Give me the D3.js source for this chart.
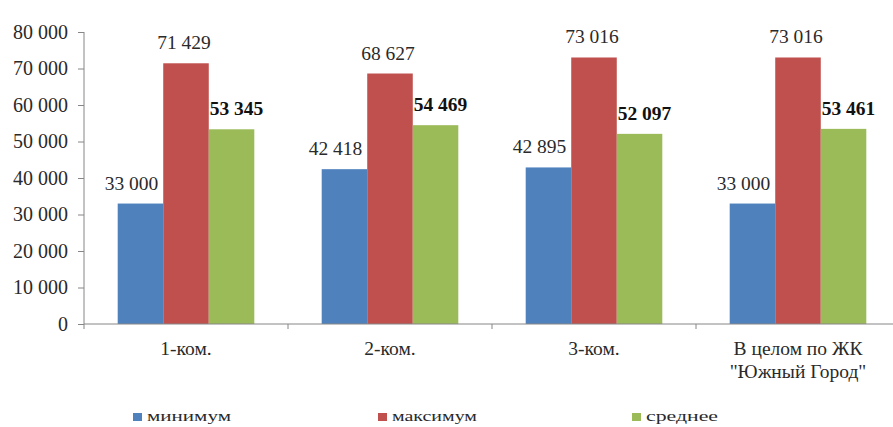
<!DOCTYPE html>
<html><head><meta charset="utf-8">
<script src="https://cdn.jsdelivr.net/npm/d3@7"></script>
<style>body{margin:0;background:#fff}svg{display:block}</style>
</head><body>
<svg id="c" width="893" height="427" font-family="Times New Roman, Liberation Serif, serif"></svg>
<script>
const categories = [["1-ком."],["2-ком."],["3-ком."],["В целом по ЖК","\"Южный Город\""]];
const seriesNames = ["минимум","максимум","среднее"];
const minimum = [33000, 42418, 42895, 33000];
const maximum = [71429, 68627, 73016, 73016];
const average = [53345, 54469, 52097, 53461];
const yTicks = [0,10000,20000,30000,40000,50000,60000,70000,80000];
const colors = ["#4F81BD","#C0504D","#9BBB59"];

const svg = d3.select("#c");
const L = 84, R = 900, T = 32, B = 324;
const x0 = d3.scaleBand().domain(d3.range(4)).range([L, R]).paddingInner(0).paddingOuter(0);
const x1 = d3.scaleBand().domain(d3.range(3)).range([0, x0.bandwidth()]).paddingOuter(0.74).paddingInner(0);
const y = d3.scaleLinear().domain([0,80000]).range([B, T]);
const fmt = v => d3.format(",")(v).replace(/,/g, " ");

const series = [minimum, maximum, average];
series.forEach((arr, si) => {
  svg.append("g").selectAll("rect").data(arr).join("rect")
    .attr("x", (d,i) => x0(i) + x1(si))
    .attr("y", d => y(d))
    .attr("width", x1.bandwidth())
    .attr("height", d => B - y(d))
    .attr("fill", colors[si]);
  svg.append("g").selectAll("text").data(arr).join("text")
    .attr("x", (d,i) => x0(i) + x1(si) + x1.bandwidth()/2 + (si===0 ? -9 : si===2 ? 5 : -2))
    .attr("y", d => y(d) - 14)
    .attr("text-anchor","middle")
    .attr("font-size", 19.5)
    .attr("font-weight", si===2 ? "bold" : "normal")
    .attr("fill", si===2 ? "#111" : "#2a2a2a")
    .text(d => fmt(d));
});

// y axis
const yAxis = svg.append("g").attr("transform", `translate(${L},0)`)
  .call(d3.axisLeft(y).tickValues(yTicks).tickSize(6).tickPadding(10).tickFormat(fmt));
yAxis.attr("font-family", null).attr("font-size", null);
yAxis.selectAll("text").attr("font-size", 20).attr("fill", "#2a2a2a");
yAxis.selectAll("line,path").attr("stroke", "#868686");
yAxis.select("path").attr("d", `M0,${T}V${B}`);

// x axis
const xg = svg.append("g").attr("transform", `translate(0,${B})`);
xg.append("line").attr("x1", L).attr("x2", 893).attr("stroke", "#868686");
xg.selectAll("line.t").data(d3.range(5)).join("line").attr("class","t")
  .attr("x1", i => L + i*x0.bandwidth()).attr("x2", i => L + i*x0.bandwidth())
  .attr("y1", 0).attr("y2", 5).attr("stroke", "#868686");
categories.forEach((lines, i) => {
  const t = xg.append("text").attr("text-anchor","middle")
    .attr("font-size", 19.5).attr("fill", "#2a2a2a");
  lines.forEach((ln, k) => {
    t.append("tspan").attr("x", x0(i) + x0.bandwidth()/2).attr("y", 31 + k*23).text(ln);
  });
});

// legend
const legX = [133, 378, 632];
const legW = [84, 85, 72];
seriesNames.forEach((n, i) => {
  svg.append("rect").attr("x", legX[i]).attr("y", 413).attr("width", 9).attr("height", 8).attr("fill", colors[i]);
  svg.append("text").attr("x", legX[i] + 14).attr("y", 421)
    .attr("font-size", 15.5).attr("fill", "#2a2a2a")
    .attr("textLength", legW[i]).attr("lengthAdjust", "spacingAndGlyphs").text(n);
});
</script>
</body></html>
